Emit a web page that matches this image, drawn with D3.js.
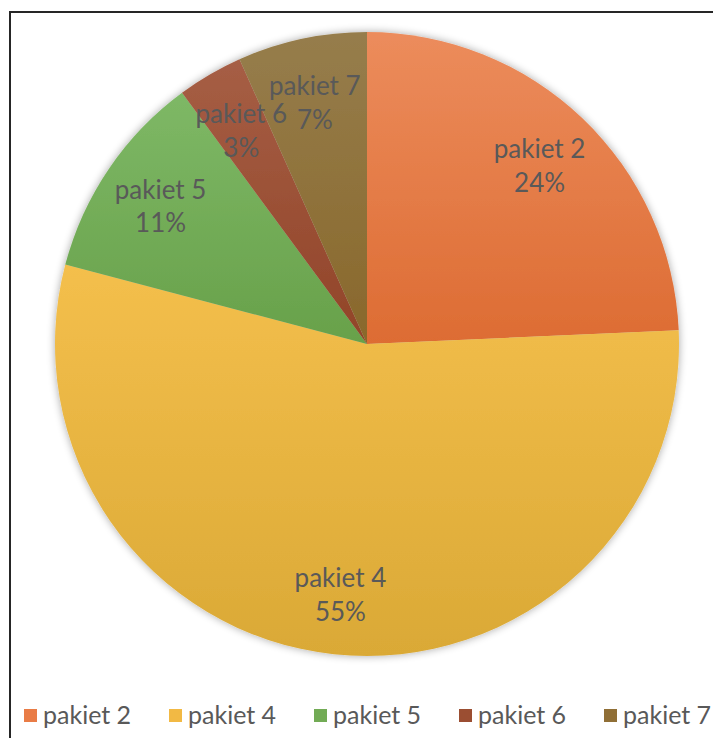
<!DOCTYPE html>
<meta charset="utf-8">
<style>
  body { margin: 0; background: #fff; }
  text { font-family: Lato, "Open Sans", sans-serif; }
</style>
<svg width="713" height="738"></svg>
<script src="https://cdn.jsdelivr.net/npm/d3@7"></script>
<script>
// data
var categories = ['pakiet 2', 'pakiet 4', 'pakiet 5', 'pakiet 6', 'pakiet 7'];
var values = [24.3, 54.8, 10.8, 3.4, 6.7];
var topColors = ['#ec8c5c', '#f4bf4c', '#7eb866', '#a65e45', '#967d4c'];
var bottomColors = ['#dd6c33', '#daa936', '#68a14a', '#914428', '#89682b'];
var legendColors = ['#e97c46', '#f2b944', '#72ab55', '#9b4e32', '#906f36'];

var width = 713, height = 738;
var cx = 367, cy = 344, R = 312;

var svg = d3.select('svg');

// chart frame
svg.append('rect')
  .attr('x', 10).attr('y', 12)
  .attr('width', width + 20).attr('height', height + 20)
  .attr('fill', '#fff')
  .attr('stroke', '#262626').attr('stroke-width', 2);

var defs = svg.append('defs');
var shadow = defs.append('filter').attr('id', 'sh')
  .attr('x', '-10%').attr('y', '-10%').attr('width', '120%').attr('height', '120%');
shadow.append('feGaussianBlur').attr('in', 'SourceAlpha').attr('stdDeviation', 4);
shadow.append('feOffset').attr('dx', 0).attr('dy', 0).attr('result', 'b');
shadow.append('feComponentTransfer').append('feFuncA').attr('type', 'linear').attr('slope', 0.35);
var m = shadow.append('feMerge');
m.append('feMergeNode');
m.append('feMergeNode').attr('in', 'SourceGraphic');

// one vertical gradient per slice, over the slice's own box
categories.forEach(function (c, i) {
  var g = defs.append('linearGradient').attr('id', 'g' + i)
    .attr('x1', 0).attr('y1', 0).attr('x2', 0).attr('y2', 1);
  g.append('stop').attr('offset', 0).attr('stop-color', topColors[i]);
  g.append('stop').attr('offset', 1).attr('stop-color', bottomColors[i]);
});

var slices = categories.map(function (c, i) { return { name: c, value: values[i], i: i }; });
var pie = d3.pie().sort(null).value(function (d) { return d.value; });
var arcs = pie(slices);
var arc = d3.arc().innerRadius(0).outerRadius(R);
var labelArc = d3.arc().innerRadius(R * 0.8).outerRadius(R * 0.8);

var g = svg.append('g').attr('transform', 'translate(' + cx + ',' + cy + ')');
g.append('g').attr('filter', 'url(#sh)')
  .selectAll('path').data(arcs).enter().append('path')
  .attr('d', arc)
  .attr('fill', function (d) { return 'url(#g' + d.data.i + ')'; });

var total = d3.sum(values);
var labels = g.selectAll('text.lbl').data(arcs).enter().append('text')
  .attr('class', 'lbl')
  .attr('text-anchor', 'middle')
  .attr('font-size', 26)
  .attr('fill', '#595959')
  .attr('transform', function (d) { var p = labelArc.centroid(d); return 'translate(' + p[0] + ',' + p[1] + ')'; });
labels.append('tspan').attr('x', 0).attr('dy', '-0.2em').text(function (d) { return d.data.name; });
labels.append('tspan').attr('x', 0).attr('dy', '1.3em')
  .text(function (d) { return Math.round(d.data.value / total * 100) + '%'; });

// legend
var lg = svg.append('g').attr('transform', 'translate(24,709)');
var item = lg.selectAll('g').data(categories).enter().append('g')
  .attr('transform', function (d, i) { return 'translate(' + (i * 145) + ',0)'; });
item.append('rect').attr('width', 13).attr('height', 13)
  .attr('fill', function (d, i) { return legendColors[i]; });
item.append('text').attr('x', 19).attr('y', 15)
  .attr('font-size', 25).attr('fill', '#595959')
  .text(function (d) { return d; });
</script>
